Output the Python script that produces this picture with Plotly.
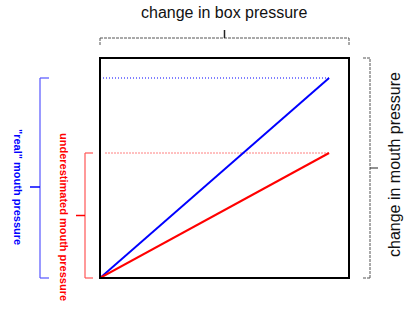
import plotly.graph_objects as go

# data
box_pressure = [0, 1]
real_mouth = [0, 1.0]
under_mouth = [0, 0.625]
x_max = 1.087
y_max = 1.1

top_label = "change in box pressure"
right_label = "change in mouth pressure"
real_label = '"real" mouth pressure'
under_label = "underestimated mouth pressure"

fig = go.Figure()

# dotted reference lines
fig.add_trace(go.Scatter(x=[0, box_pressure[1]], y=[real_mouth[1]] * 2, mode="lines",
                         line=dict(color="blue", width=1, dash="1px,2px"), hoverinfo="skip"))
fig.add_trace(go.Scatter(x=[0.024, box_pressure[1]], y=[under_mouth[1]] * 2, mode="lines",
                         line=dict(color="red", width=1, dash="1px,2px"), hoverinfo="skip"))
# main lines
fig.add_trace(go.Scatter(x=box_pressure, y=real_mouth, mode="lines",
                         line=dict(color="blue", width=2), hoverinfo="skip"))
fig.add_trace(go.Scatter(x=box_pressure, y=under_mouth, mode="lines",
                         line=dict(color="red", width=2), hoverinfo="skip"))

def px2x(px):
    return (px - 100) / 249.0

def py2y(py):
    return (278 - py) / 220.0

shapes = []
# box
shapes.append(dict(type="rect", xref="paper", yref="paper", x0=0, x1=1, y0=0, y1=1,
                   line=dict(color="black", width=2)))
# top bracket
dash = "3px,1px"
gray = "#555"
yb = py2y(38)
shapes += [
    dict(type="line", xref="paper", yref="paper", x0=0, x1=1, y0=yb, y1=yb, line=dict(color=gray, width=1, dash=dash)),
    dict(type="line", xref="paper", yref="paper", x0=0, x1=0, y0=yb, y1=py2y(46), line=dict(color=gray, width=1, dash=dash)),
    dict(type="line", xref="paper", yref="paper", x0=1, x1=1, y0=yb, y1=py2y(46), line=dict(color=gray, width=1, dash=dash)),
    dict(type="line", xref="paper", yref="paper", x0=0.5, x1=0.5, y0=yb, y1=py2y(30), line=dict(color="#222", width=1.5)),
]
# right bracket
xb = px2x(370)
shapes += [
    dict(type="line", xref="paper", yref="paper", x0=xb, x1=xb, y0=0, y1=1, line=dict(color=gray, width=1, dash=dash)),
    dict(type="line", xref="paper", yref="paper", x0=xb, x1=px2x(362), y0=0, y1=0, line=dict(color=gray, width=1, dash=dash)),
    dict(type="line", xref="paper", yref="paper", x0=xb, x1=px2x(362), y0=1, y1=1, line=dict(color=gray, width=1, dash=dash)),
    dict(type="line", xref="paper", yref="paper", x0=xb, x1=px2x(378), y0=0.5, y1=0.5, line=dict(color="#222", width=1)),
]
# blue bracket
xbl = px2x(40)
ytop_b = real_mouth[1] / y_max
shapes += [
    dict(type="line", xref="paper", yref="paper", x0=xbl, x1=xbl, y0=0, y1=ytop_b, line=dict(color="#5555ff", width=1.2)),
    dict(type="line", xref="paper", yref="paper", x0=xbl, x1=px2x(49), y0=0, y1=0, line=dict(color="#5555ff", width=1.2)),
    dict(type="line", xref="paper", yref="paper", x0=xbl, x1=px2x(49), y0=ytop_b, y1=ytop_b, line=dict(color="#5555ff", width=1.2)),
    dict(type="line", xref="paper", yref="paper", x0=xbl, x1=px2x(30), y0=py2y(187), y1=py2y(187), line=dict(color="blue", width=1.5)),
]
# red bracket
xbr = px2x(85)
ytop_r = under_mouth[1] / y_max
shapes += [
    dict(type="line", xref="paper", yref="paper", x0=xbr, x1=xbr, y0=0, y1=ytop_r, line=dict(color="#ff5555", width=1.2)),
    dict(type="line", xref="paper", yref="paper", x0=xbr, x1=px2x(93), y0=0, y1=0, line=dict(color="#ff5555", width=1.2)),
    dict(type="line", xref="paper", yref="paper", x0=xbr, x1=px2x(93), y0=ytop_r, y1=ytop_r, line=dict(color="#ff5555", width=1.2)),
    dict(type="line", xref="paper", yref="paper", x0=xbr, x1=px2x(76), y0=ytop_r / 2, y1=ytop_r / 2, line=dict(color="red", width=1.5)),
]

font = "Liberation Sans, Arial, sans-serif"
annotations = [
    dict(text=top_label, xref="paper", yref="paper", x=px2x(224), y=py2y(13), showarrow=False,
         font=dict(family=font, size=16, color="#111"), xanchor="center", yanchor="middle"),
    dict(text=right_label, xref="paper", yref="paper", x=px2x(394), y=py2y(165), showarrow=False,
         textangle=-90, font=dict(family=font, size=16, color="#111"), xanchor="center", yanchor="middle"),
    dict(text="<b>" + real_label + "</b>", xref="paper", yref="paper", x=px2x(18), y=py2y(187), showarrow=False,
         textangle=90, font=dict(family=font, size=11, color="blue"), xanchor="center", yanchor="middle"),
    dict(text="<b>" + under_label + "</b>", xref="paper", yref="paper", x=px2x(64), y=py2y(217), showarrow=False,
         textangle=90, font=dict(family=font, size=11, color="red"), xanchor="center", yanchor="middle"),
]

fig.update_layout(
    width=420, height=323,
    margin=dict(l=100, r=71, t=58, b=45),
    paper_bgcolor="white", plot_bgcolor="white",
    showlegend=False,
    xaxis=dict(range=[0, x_max], visible=False, fixedrange=True),
    yaxis=dict(range=[0, y_max], visible=False, fixedrange=True),
    shapes=shapes,
    annotations=annotations,
)

fig.write_html("out.html", config={"displayModeBar": False})
